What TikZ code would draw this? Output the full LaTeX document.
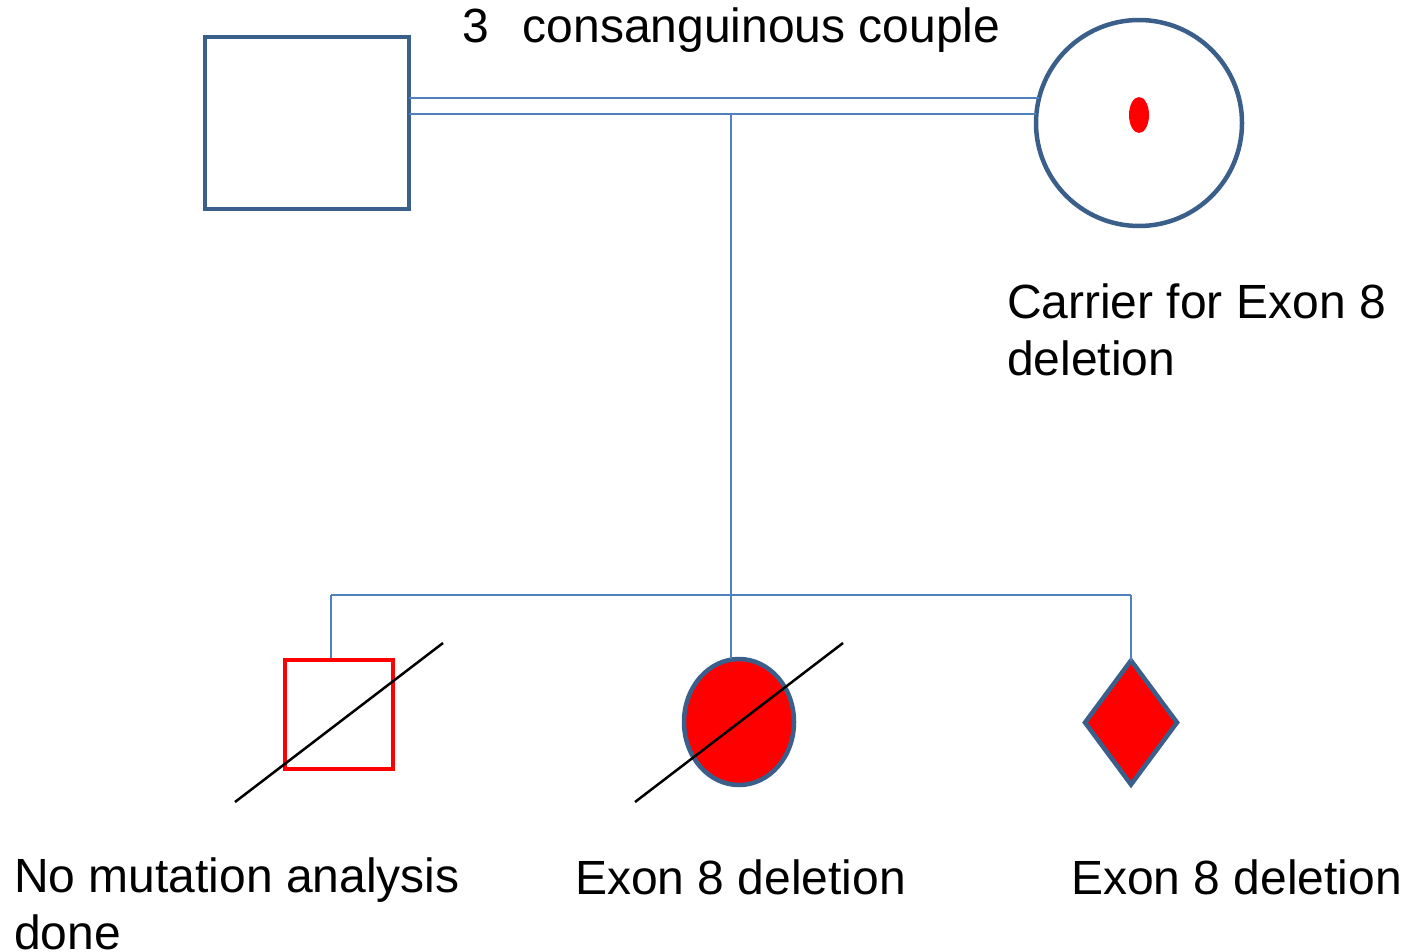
\documentclass[tikz,border=0pt]{standalone}
\usepackage{fontspec}
\setmainfont{Liberation Sans}
\usetikzlibrary{shapes.geometric}
\definecolor{symblue}{HTML}{3A5F8B}
\definecolor{linkblue}{HTML}{4F81BD}
\definecolor{pred}{HTML}{FF0000}
\tikzset{
  person/.style={draw=symblue, line width=4.5pt, inner sep=0pt, outer sep=0pt},
  link/.style={draw=linkblue, line width=2pt},
  slash/.style={draw=black, line width=2.5pt},
  lbl/.style={inner sep=0pt, outer sep=0pt, anchor=base west, align=left, font=\fontsize{48}{57}\selectfont},
}
\begin{document}
\begin{tikzpicture}[x=1pt,y=-1pt]
\useasboundingbox (0,0) rectangle (1407,952);
% parents
\node[person, rectangle, fill=white, minimum width=204pt, minimum height=172pt] (father) at (307,123) {};
\node[person, circle, fill=white, minimum size=206pt] (mother) at (1139,123) {};
\node[ellipse, fill=pred, inner sep=0pt, minimum width=20pt, minimum height=36pt] (dot) at (1139,115) {};
% children
\node[rectangle, draw=pred, line width=4pt, inner sep=0pt, minimum width=108pt, minimum height=109pt] (c1) at (339,714.5) {};
\node[person, ellipse, fill=pred, minimum width=110pt, minimum height=126pt] (c2) at (739,722) {};
\node[person, diamond, fill=pred, minimum width=92pt, minimum height=124pt] (c3) at (1131,722.5) {};
% connectors
\coordinate (mid) at (731,115);
\coordinate (sibL) at (331,595);
\coordinate (sibM) at (731,595);
\coordinate (sibR) at (1131,595);
\draw[link] (father.east |- mother.166.8) -- (mother.166.8);
\draw[link] (father.east |- mother.175.6) -- (mother.175.6);
\draw[link] (mid) -- (sibM);
\draw[link] (sibL) -- (sibR);
\draw[link] (sibL) -- (sibL |- c1.north);
\draw[link] (sibM) -- (sibM |- c2.north);
\draw[link] (sibR) -- (c3.north);
% deceased slashes
\coordinate (s1a) at (235,802); \coordinate (s1b) at (443,643);
\coordinate (s2a) at (635,802); \coordinate (s2b) at (843,643);
\draw[slash] (s1a) -- (s1b);
\draw[slash] (s2a) -- (s2b);
% labels
\node[lbl] (ttop) at (462,43) {3\hspace{34pt}consanguinous couple};
\node[lbl] (tcar) at (1007,375) {Carrier for Exon 8\\deletion};
\node[lbl] (tc1) at (14,949) {No mutation analysis\\done};
\node[lbl] (tc2) at (575,894) {Exon 8 deletion};
\node[lbl] (tc3) at (1071,894) {Exon 8 deletion};
\end{tikzpicture}
\end{document}
